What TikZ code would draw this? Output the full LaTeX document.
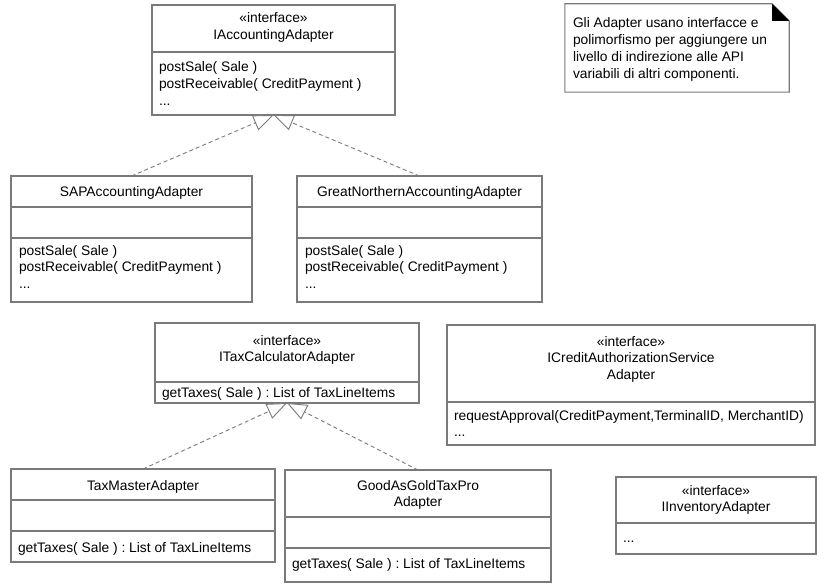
\documentclass[tikz,border=0pt]{standalone}
\usepackage{fontspec}
\setmainfont{Liberation Sans}
\usetikzlibrary{arrows.meta}
\frenchspacing
\definecolor{bordergray}{HTML}{7A7A7A}
\begin{document}
\begin{tikzpicture}[x=1pt,y=-1pt,
  box/.style={draw=bordergray, line width=1.1pt, fill=white, inner sep=0pt, outer sep=0pt},
  txt/.style={inner sep=0pt, outer sep=0pt, font=\fontsize{13.8}{16.8}\selectfont, execute at begin node=\strut},
  ml/.style={txt, align=left, anchor=north west},
  ctr/.style={txt, align=center, anchor=north},
  notetxt/.style={inner sep=0pt, outer sep=0pt, font=\fontsize{13.8}{16.7}\selectfont, execute at begin node=\strut, align=left, anchor=north west},
  sep/.style={draw=bordergray, line width=1.1pt},
  impl/.style={draw=bordergray, line width=0.9pt, dash pattern=on 4pt off 3pt,
    -{Triangle[open, length=20pt, width=16pt, fill=white]}}]

\useasboundingbox (0,0) rectangle (829,583);

% ---------- IAccountingAdapter ----------
\node[box, minimum width=243, minimum height=110] (iacc) at (273.5,60) {};
\draw[sep] (iacc.west |- 0,52) -- (iacc.east |- 0,52);
\node[ctr] (iacch) at (273.5,13) {«interface»\\IAccountingAdapter};
\node[ml] (iaccm) at (159,62) {postSale( Sale )\\postReceivable( CreditPayment )\\...};

% ---------- SAPAccountingAdapter ----------
\node[box, minimum width=241, minimum height=126] (sap) at (131.5,239) {};
\draw[sep] (sap.west |- 0,207) -- (sap.east |- 0,207);
\draw[sep] (sap.west |- 0,238) -- (sap.east |- 0,238);
\node[ctr] (saph) at (131.5,185) {SAPAccountingAdapter};
\node[ml] (sapm) at (19,245) {postSale( Sale )\\postReceivable( CreditPayment )\\...};

% ---------- GreatNorthernAccountingAdapter ----------
\node[box, minimum width=245, minimum height=126] (gna) at (419.5,239) {};
\draw[sep] (gna.west |- 0,207) -- (gna.east |- 0,207);
\draw[sep] (gna.west |- 0,238) -- (gna.east |- 0,238);
\node[ctr] (gnah) at (419.5,185) {GreatNorthernAccountingAdapter};
\node[ml] (gnam) at (305,245) {postSale( Sale )\\postReceivable( CreditPayment )\\...};

% ---------- ITaxCalculatorAdapter ----------
\node[box, minimum width=264, minimum height=80] (itax) at (287,363) {};
\draw[sep] (itax.west |- 0,382) -- (itax.east |- 0,382);
\node[ctr] (itaxh) at (287,335) {«interface»\\ITaxCalculatorAdapter};
\node[ml] (itaxm) at (162,386) {getTaxes( Sale ) : List of TaxLineItems};

% ---------- ICreditAuthorizationServiceAdapter ----------
\node[box, minimum width=368, minimum height=120] (icred) at (631,385) {};
\draw[sep] (icred.west |- 0,402) -- (icred.east |- 0,402);
\node[ctr] (icredh) at (631,336) {«interface»\\ICreditAuthorizationService\\Adapter};
\node[ml] (icredm) at (454,410) {requestApproval(CreditPayment,TerminalID, MerchantID)\\...};

% ---------- TaxMasterAdapter ----------
\node[box, minimum width=264, minimum height=93] (tm) at (143,515.5) {};
\draw[sep] (tm.west |- 0,500) -- (tm.east |- 0,500);
\draw[sep] (tm.west |- 0,531) -- (tm.east |- 0,531);
\node[ctr] (tmh) at (143,479) {TaxMasterAdapter};
\node[ml] (tmm) at (18,541) {getTaxes( Sale ) : List of TaxLineItems};

% ---------- GoodAsGoldTaxProAdapter ----------
\node[box, minimum width=266, minimum height=112] (gag) at (418,526) {};
\draw[sep] (gag.west |- 0,517) -- (gag.east |- 0,517);
\draw[sep] (gag.west |- 0,548) -- (gag.east |- 0,548);
\node[ctr] (gagh) at (418,480) {GoodAsGoldTaxPro\\Adapter};
\node[ml] (gagm) at (292,557) {getTaxes( Sale ) : List of TaxLineItems};

% ---------- IInventoryAdapter ----------
\node[box, minimum width=200, minimum height=77] (iinv) at (716,515.5) {};
\draw[sep] (iinv.west |- 0,523) -- (iinv.east |- 0,523);
\node[ctr] (iinvh) at (716,485) {«interface»\\IInventoryAdapter};
\node[ml] (iinvm) at (623,531) {...};

% ---------- Note ----------
\node[inner sep=0pt, minimum width=224, minimum height=88] (note) at (677,48) {};
\draw[draw=bordergray, line width=1.1pt, fill=white]
  (note.north west) -- ([xshift=-17pt]note.north east) -- ([yshift=-17pt]note.north east)
  -- (note.south east) -- (note.south west) -- cycle;
\fill[black] ([xshift=-17pt]note.north east) -- ([yshift=-17pt]note.north east)
  -- ([xshift=-17pt,yshift=-17pt]note.north east) -- cycle;
\node[notetxt] (notet) at (573,18) {Gli Adapter usano interfacce e\\polimorfismo per aggiungere un\\livello di indirezione alle API\\variabili di altri componenti.};

% ---------- Realizations ----------
\draw[impl] (sap.north) -- (iacc.south);
\draw[impl] (gna.north) -- (iacc.south);
\draw[impl] (tm.north) -- (itax.south);
\draw[impl] (gag.north) -- (itax.south);
\end{tikzpicture}
\end{document}
